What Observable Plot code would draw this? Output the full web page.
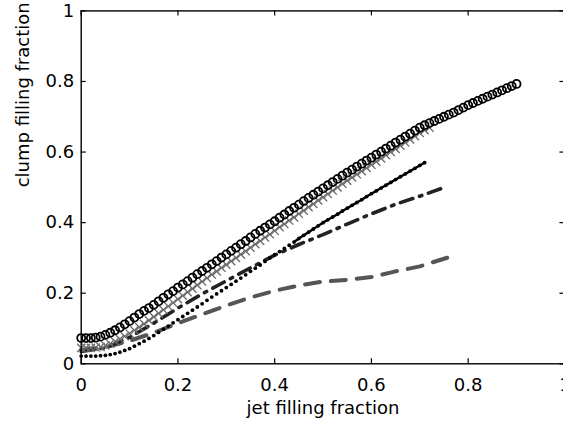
<!DOCTYPE html>
<html>
<head>
<meta charset="utf-8">
<script src="https://cdn.jsdelivr.net/npm/d3@7"></script>
<script src="https://cdn.jsdelivr.net/npm/@observablehq/plot@0.6"></script>
<style>
  html, body { margin: 0; padding: 0; background: #fff; overflow: hidden; }
</style>
</head>
<body>
<div id="chart"></div>
<script>
// ---- tick values and labels ----
const xTicks = [0, 0.2, 0.4, 0.6, 0.8, 1];
const xTickLabels = ["0", "0.2", "0.4", "0.6", "0.8", "1"];
const yTicks = [0, 0.2, 0.4, 0.6, 0.8, 1];
const yTickLabels = ["0", "0.2", "0.4", "0.6", "0.8", "1"];
const xLabel = "jet filling fraction";
const yLabel = "clump filling fraction";

// ---- series sampled every 0.01 in jet filling fraction ----
const sampleStep = 0.01;
// open circles (black)
const circlesY = [0.073,0.073,0.073,0.074,0.077,0.082,0.088,0.095,0.103,0.112,
  0.121,0.131,0.141,0.150,0.158,0.167,0.177,0.187,0.197,0.206,
  0.216,0.225,0.234,0.244,0.254,0.263,0.272,0.282,0.291,0.301,
  0.310,0.320,0.329,0.339,0.348,0.358,0.368,0.377,0.386,0.395,
  0.404,0.414,0.423,0.433,0.442,0.451,0.461,0.470,0.479,0.488,
  0.497,0.506,0.515,0.524,0.533,0.542,0.550,0.559,0.567,0.576,
  0.584,0.593,0.601,0.610,0.618,0.627,0.635,0.644,0.652,0.661,
  0.669,0.676,0.682,0.688,0.694,0.700,0.706,0.712,0.719,0.726,
  0.733,0.739,0.745,0.751,0.757,0.763,0.769,0.775,0.781,0.787,0.793];
// crosses (grey)
const crossesY = [0.045,0.045,0.045,0.046,0.048,0.052,0.057,0.063,0.070,0.078,
  0.086,0.095,0.104,0.113,0.123,0.133,0.143,0.153,0.163,0.173,
  0.183,0.193,0.203,0.213,0.223,0.233,0.243,0.253,0.262,0.272,
  0.281,0.291,0.300,0.310,0.319,0.329,0.339,0.348,0.358,0.367,
  0.377,0.387,0.396,0.406,0.415,0.425,0.434,0.444,0.453,0.463,
  0.472,0.481,0.491,0.500,0.510,0.519,0.528,0.537,0.546,0.555,
  0.564,0.573,0.582,0.591,0.600,0.609,0.618,0.627,0.636,0.645,
  0.654,0.662,0.669];
// small dots (black)
const dotsY = [0.022,0.022,0.022,0.022,0.023,0.024,0.026,0.029,0.033,0.038,
  0.043,0.050,0.057,0.064,0.072,0.080,0.089,0.098,0.107,0.116,
  0.125,0.134,0.143,0.152,0.161,0.170,0.180,0.189,0.198,0.207,
  0.216,0.225,0.234,0.243,0.252,0.262,0.271,0.280,0.290,0.300,
  0.309,0.318,0.327,0.336,0.345,0.355,0.364,0.373,0.382,0.391,
  0.400,0.408,0.416,0.424,0.433,0.441,0.449,0.457,0.465,0.474,
  0.482,0.490,0.498,0.506,0.514,0.522,0.530,0.538,0.546,0.554,
  0.562,0.570];
// dash-dot line (dark)
const dashDotX = [0, 0.05, 0.10, 0.15, 0.20, 0.25, 0.30, 0.35, 0.40, 0.45, 0.50, 0.55, 0.60, 0.65, 0.70, 0.745];
const dashDotY = [0.035, 0.045, 0.075, 0.115, 0.158, 0.198, 0.235, 0.272, 0.308, 0.338, 0.366, 0.396, 0.425, 0.452, 0.475, 0.497];
// dashed line (grey)
const dashedX = [0, 0.05, 0.10, 0.15, 0.20, 0.25, 0.30, 0.35, 0.40, 0.45, 0.50, 0.55, 0.60, 0.65, 0.70, 0.76];
const dashedY = [0.040, 0.047, 0.065, 0.088, 0.115, 0.140, 0.165, 0.188, 0.207, 0.222, 0.233, 0.238, 0.246, 0.262, 0.276, 0.302];

// ---- build tables ----
const toRows = ys => ys.map((y, i) => ({x: +(i * sampleStep).toFixed(2), y}));
const circles = toRows(circlesY);
const crosses = toRows(crossesY);
const dots = toRows(dotsY);
const dashDot = dashDotX.map((x, i) => ({x, y: dashDotY[i]}));
const dashed = dashedX.map((x, i) => ({x, y: dashedY[i]}));

const W = 563, H = 425;
const mL = 80.7, mR = -1.4, mT = 10.4, mB = 61.7;
const fw = W - mL - mR, fh = H - mT - mB;
const tickLen = 5;

const chart = Plot.plot({
  width: W, height: H,
  marginLeft: mL, marginRight: mR, marginTop: mT, marginBottom: mB,
  style: {fontFamily: "DejaVu Sans", fontSize: "18px", background: "#fff", overflow: "visible", color: "black"},
  x: {domain: [0, 1], axis: null},
  y: {domain: [0, 1], axis: null},
  marks: [
    Plot.line(dashed, {x: "x", y: "y", stroke: "#555", strokeWidth: 4, strokeDasharray: "15,11"}),
    Plot.line(dashDot, {x: "x", y: "y", stroke: "#222", strokeWidth: 3.6, strokeDasharray: "13,7,2.5,7"}),
    Plot.line(dots.filter(d => d.x >= 0.44), {x: "x", y: "y", stroke: "black", strokeWidth: 2.4}),
    Plot.dot(dots, {x: "x", y: "y", r: 1.9, fill: "black"}),
    Plot.dot(crosses, {x: "x", y: "y", symbol: "times", r: 3.8, stroke: "#6a6a6a", strokeWidth: 1.3}),
    Plot.dot(circles, {x: "x", y: "y", r: 4, stroke: "black", strokeWidth: 1.8, fill: "none"}),
    Plot.frame({stroke: "black", strokeWidth: 1.4}),
    Plot.tickX(xTicks, {x: d => d, insetTop: fh - tickLen, stroke: "black", strokeWidth: 1.2}),
    Plot.tickX(xTicks, {x: d => d, insetBottom: fh - tickLen, stroke: "black", strokeWidth: 1.2}),
    Plot.tickY(yTicks, {y: d => d, insetRight: fw - tickLen, stroke: "black", strokeWidth: 1.2}),
    Plot.tickY(yTicks, {y: d => d, insetLeft: fw - tickLen, stroke: "black", strokeWidth: 1.2}),
    Plot.text(xTicks, {x: d => d, text: (d, i) => xTickLabels[i], frameAnchor: "bottom", lineAnchor: "bottom", dy: 26.7, fill: "black", fontSize: 18}),
    Plot.text(yTicks, {y: d => d, text: (d, i) => yTickLabels[i], frameAnchor: "left", textAnchor: "end", lineAnchor: "middle", dx: -7, fill: "black", fontSize: 18}),
    Plot.text([xLabel], {text: d => d, frameAnchor: "bottom", lineAnchor: "bottom", dy: 50.5, fill: "black", fontSize: 18}),
    Plot.text([yLabel], {text: d => d, frameAnchor: "left", rotate: -90, lineAnchor: "bottom", dx: -52, fill: "black", fontSize: 18})
  ]
});
document.getElementById("chart").appendChild(chart);
</script>
</body>
</html>
